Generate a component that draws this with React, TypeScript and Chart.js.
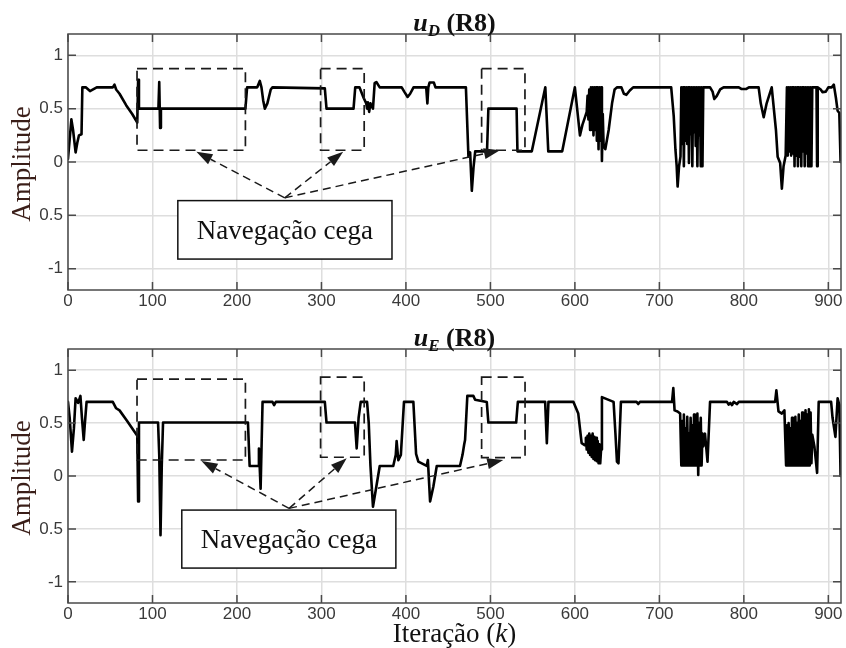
import React, { useEffect, useRef } from "react";
import { Chart, registerables } from "chart.js";

Chart.register(...registerables);

// ---------- axes ----------
const X_TICKS = [0, 100, 200, 300, 400, 500, 600, 700, 800, 900];
const Y_TICKS = [-1, -0.5, 0, 0.5, 1];
const Y_TICK_LABELS = ["-1", "0.5", "0", "0.5", "1"];
const X_MIN = 0;
const X_MAX = 915;
const Y_MIN = -1.2;
const Y_MAX = 1.2;

// ---------- text ----------
const TITLE_TOP = ["u", "D", " (R8)"];
const TITLE_BOTTOM = ["u", "E", " (R8)"];
const Y_LABEL = "Amplitude";
const X_LABEL = ["Iteração (", "k", ")"];
const NOTE_TEXT = "Navegação cega";

// ---------- u_D series: [k, value] ----------
const uD_part1: [number, number][] = [
  [0, 0.03], [4, 0.4], [6, 0.3], [9, 0.09], [11, 0.18], [13, 0.25], [16, 0.26], [17, 0.7],
  [21, 0.7], [26, 0.665], [34, 0.7], [53, 0.7], [55, 0.725], [57, 0.68], [61, 0.64], [69, 0.53],
  [76, 0.45], [82, 0.37], [83, 0.77], [84, 0.5], [107, 0.5], [108, 0.75], [109, 0.32], [110, 0.5],
  [210, 0.5], [212, 0.7], [224, 0.7], [227, 0.76], [229, 0.7], [231, 0.58], [233, 0.5], [236, 0.55],
  [240, 0.68], [242, 0.7], [304, 0.69], [306, 0.5], [338, 0.5], [340, 0.7], [345, 0.7], [350, 0.6],
  [353, 0.55], [354, 0.5], [355, 0.56], [356.5, 0.47], [358, 0.55], [359.5, 0.52], [361, 0.5],
  [363, 0.74], [365, 0.75], [369, 0.7], [395, 0.7], [398, 0.66], [402, 0.61], [405, 0.64], [409, 0.7],
  [424, 0.7], [425.4, 0.55], [426.5, 0.7], [428, 0.745], [433, 0.745], [435, 0.7], [471, 0.7],
  [474, 0.05], [476, 0.09], [478, -0.27], [480, -0.05], [482, 0.1], [496, 0.1], [497.6, 0.5],
  [531, 0.5], [532, 0.1], [549, 0.1], [565, 0.7], [568.5, 0.1], [585, 0.1], [600, 0.7], [606, 0.25],
  [609, 0.35], [612, 0.42],
];
const uD_osc1_start = 614;
const uD_osc1 = [0.47, 0.62, 0.4, 0.68, 0.3, 0.7, 0.35, 0.7, 0.25, 0.7, 0.3, 0.7, 0.2, 0.7, 0.12, 0.7, 0.2, 0.7, 0.01, 0.45, 0.15];
const uD_part2: [number, number][] = [
  [636, 0.12], [640, 0.3], [644, 0.55], [647, 0.68], [650, 0.7], [655, 0.7], [658, 0.64], [661, 0.63],
  [665, 0.67], [669, 0.7], [714, 0.7], [717, 0.43], [719, 0.12], [720.5, -0.04], [721.6, -0.23],
  [723.3, -0.04], [725, 0.05],
];
const uD_osc2_start = 726;
const uD_osc2 = [0.7, 0.17, 0.7, -0.04, 0.7, 0.2, 0.7, 0.17, 0.7, -0.01, 0.7, 0.26, 0.7, -0.04, 0.7, 0.28, 0.7, 0.15, 0.7, -0.04, 0.7, 0.25, 0.7, -0.04, 0.7, -0.04, 0.7];
const uD_part3: [number, number][] = [
  [760, 0.7], [763, 0.66], [765, 0.59], [768, 0.62], [772, 0.68], [776, 0.7], [794, 0.7], [797, 0.685],
  [803, 0.685], [806, 0.7], [817.5, 0.7], [820, 0.55], [823.5, 0.42], [827, 0.55], [833, 0.7],
  [838, 0.3], [840, 0.05], [843, -0.01], [845, -0.25], [847, -0.04], [849.5, 0.06],
];
const uD_osc3_start = 851;
const uD_osc3 = [0.7, 0.06, 0.7, 0.1, 0.7, 0.06, 0.7, 0.08, 0.7, -0.04, 0.7, 0.06, 0.7, -0.04, 0.7, 0.05, 0.7, -0.04, 0.7, 0.1, 0.7, -0.04, 0.7, 0.08, 0.7, -0.04, 0.7, -0.04, 0.7, -0.04, 0.7];
const uD_part4: [number, number][] = [
  [886, 0.7], [886.7, -0.04], [887.4, 0.7], [891, 0.68], [893, 0.655], [897, 0.66], [900, 0.7],
  [904, 0.7], [906.5, 0.725], [909, 0.6], [911, 0.48], [913, 0.46], [914.5, 0.0],
];

// ---------- u_E series: [k, value] ----------
const uE_part1: [number, number][] = [
  [0, 0.7], [2, 0.55], [4.7, 0.23], [7, 0.45], [9, 0.735], [12, 0.69], [14.7, 0.757], [16.5, 0.55],
  [18.6, 0.34], [20, 0.5], [22, 0.7], [53, 0.7], [57, 0.64], [61, 0.62], [70, 0.52], [82, 0.38],
  [83, -0.24], [84, 0.505], [106.6, 0.505], [108, 0.2], [109.5, -0.56], [111, 0.1], [112.5, 0.505],
  [213, 0.505], [215, 0.095], [225, 0.095], [226, 0.26], [228, -0.12], [230.3, 0.7], [242, 0.7],
  [244, 0.67], [246, 0.7], [304, 0.7], [306, 0.505], [339.7, 0.505], [341.7, 0.26], [344, 0.55],
  [346.5, 0.7], [354, 0.7], [356, 0.5], [358, 0.1], [361, -0.29], [365, -0.1], [369, 0.095],
  [385, 0.095], [388, 0.2], [389, 0.33], [391, 0.15], [394, 0.2], [397.7, 0.7], [408.8, 0.7],
  [412, 0.21], [414.7, 0.135], [424.6, 0.095], [426, 0.15], [428.6, -0.24], [432.5, -0.1],
  [436.5, 0.095], [464, 0.095], [467, 0.2], [469, 0.3], [470, 0.34], [472.7, 0.757], [479.8, 0.757],
  [481.9, 0.72], [495.7, 0.7], [497.6, 0.505], [530.5, 0.505], [532.5, 0.7], [564.8, 0.7],
  [566.8, 0.31], [568.7, 0.7], [598.3, 0.7], [604, 0.59], [608, 0.31],
];
const uE_osc1_start = 612;
const uE_osc1 = [0.29, 0.36, 0.25, 0.38, 0.22, 0.4, 0.2, 0.38, 0.18, 0.4, 0.16, 0.37, 0.15, 0.36, 0.14, 0.33, 0.12, 0.3, 0.12, 0.25];
const uE_part2: [number, number][] = [
  [632, 0.745], [645.8, 0.7], [648, 0.4], [649.8, 0.135], [651.6, 0.12], [654.5, 0.7], [673, 0.7],
  [675, 0.68], [677, 0.7], [715, 0.7], [716.5, 0.83], [718, 0.62], [721.5, 0.61], [724.6, 0.59],
];
const uE_osc2_start = 726;
const uE_osc2 = [0.1, 0.52, 0.1, 0.58, 0.1, 0.45, 0.1, 0.56, 0.1, 0.4, 0.1, 0.55, 0.1, 0.48, 0.1, 0.58, 0.1, 0.42, 0.1, 0.59, 0.01, 0.5, 0.1, 0.55, 0.1, 0.4];
const uE_part3: [number, number][] = [
  [752, 0.28], [754, 0.4], [757, 0.135], [760, 0.7], [780, 0.7], [782, 0.675], [784, 0.69], [786, 0.67],
  [788, 0.7], [792, 0.68], [794, 0.7], [837, 0.7], [838.5, 0.81], [841, 0.61], [845, 0.59], [848, 0.62],
];
const uE_osc3_start = 850;
const uE_osc3 = [0.1, 0.48, 0.1, 0.5, 0.1, 0.45, 0.1, 0.55, 0.1, 0.42, 0.1, 0.56, 0.1, 0.5, 0.1, 0.58, 0.1, 0.52, 0.1, 0.6, 0.1, 0.55, 0.1, 0.62, 0.1, 0.58, 0.1, 0.63, 0.1, 0.6, 0.12];
const uE_part4: [number, number][] = [
  [881, 0.39], [883.5, 0.28], [886.7, 0.03], [888.6, 0.7], [903.3, 0.7], [905, 0.55], [908.4, 0.37],
  [911, 0.735], [913, 0.67], [914.5, 0.0],
];

const seq = (start: number, vals: number[]): [number, number][] => vals.map((v, i) => [start + i, v]);

const uD: [number, number][] = [
  ...uD_part1, ...seq(uD_osc1_start, uD_osc1), ...uD_part2, ...seq(uD_osc2_start, uD_osc2),
  ...uD_part3, ...seq(uD_osc3_start, uD_osc3), ...uD_part4,
];
const uE: [number, number][] = [
  ...uE_part1, ...seq(uE_osc1_start, uE_osc1), ...uE_part2, ...seq(uE_osc2_start, uE_osc2),
  ...uE_part3, ...seq(uE_osc3_start, uE_osc3), ...uE_part4,
];

// ---------- annotations (data coordinates) ----------
type Annot = {
  rects: [number, number, number, number][]; // k0, k1, vTop, vBottom
  apex: [number, number];
  targets: [number, number][];
  box: [number, number, number, number]; // k0, k1, vTop, vBottom
};
const ANNOT_TOP: Annot = {
  rects: [[81.7, 210, 0.876, 0.11], [299, 350.6, 0.876, 0.11], [489.6, 540.9, 0.876, 0.11]],
  apex: [256.6, -0.336],
  targets: [[152, 0.095], [325.7, 0.095], [511.3, 0.11]],
  box: [130, 383.5, -0.362, -0.91],
};
const ANNOT_BOTTOM: Annot = {
  rects: [[81.7, 210, 0.915, 0.151], [299, 350.6, 0.934, 0.177], [489.6, 541, 0.934, 0.173]],
  apex: [261.7, -0.306],
  targets: [[158, 0.142], [329.9, 0.167], [515.2, 0.151]],
  box: [134.7, 388.1, -0.322, -0.87],
};

const SERIF = '"Liberation Serif", "Times New Roman", serif';
const SANS = '"Liberation Sans", Arial, sans-serif';

function drawArrow(ctx: CanvasRenderingContext2D, x0: number, y0: number, x1: number, y1: number) {
  const ang = Math.atan2(y1 - y0, x1 - x0);
  const L = 16;
  const W = 5.5;
  const bx = x1 - L * Math.cos(ang);
  const by = y1 - L * Math.sin(ang);
  ctx.setLineDash([8, 5]);
  ctx.beginPath();
  ctx.moveTo(x0, y0);
  ctx.lineTo(bx, by);
  ctx.stroke();
  ctx.setLineDash([]);
  ctx.beginPath();
  ctx.moveTo(x1, y1);
  ctx.lineTo(bx - W * Math.sin(ang), by + W * Math.cos(ang));
  ctx.lineTo(bx + W * Math.sin(ang), by - W * Math.cos(ang));
  ctx.closePath();
  ctx.fill();
}

type PanelProps = {
  top: number;
  height: number;
  points: [number, number][];
  title: string[];
  titleBaseline: number;
  padTop: number;
  xAxisHeight: number;
  annot: Annot;
  showXLabel: boolean;
};

function Panel(props: PanelProps) {
  const ref = useRef<HTMLCanvasElement>(null);
  useEffect(() => {
    const { points, title, titleBaseline, padTop, xAxisHeight, annot, showXLabel } = props;
    const decor = {
      id: "decor",
      afterDraw(chart: any) {
        const ctx: CanvasRenderingContext2D = chart.ctx;
        const a = chart.chartArea;
        const xs = chart.scales.x;
        const ys = chart.scales.y;
        const X = (v: number) => xs.getPixelForValue(v);
        const Y = (v: number) => ys.getPixelForValue(v);
        ctx.save();
        // frame + inward ticks
        ctx.strokeStyle = "#4a4a4a";
        ctx.lineWidth = 1.5;
        ctx.strokeRect(a.left, a.top, a.right - a.left, a.bottom - a.top);
        ctx.beginPath();
        X_TICKS.forEach((t) => {
          const px = X(t);
          ctx.moveTo(px, a.bottom);
          ctx.lineTo(px, a.bottom - 8);
          ctx.moveTo(px, a.top);
          ctx.lineTo(px, a.top + 8);
        });
        Y_TICKS.forEach((t) => {
          const py = Y(t);
          ctx.moveTo(a.left, py);
          ctx.lineTo(a.left + 8, py);
          ctx.moveTo(a.right, py);
          ctx.lineTo(a.right - 8, py);
        });
        ctx.stroke();

        // dashed rectangles
        ctx.strokeStyle = "#1a1a1a";
        ctx.fillStyle = "#1a1a1a";
        ctx.lineWidth = 1.7;
        ctx.setLineDash([10, 6]);
        annot.rects.forEach(([k0, k1, v0, v1]) => {
          ctx.strokeRect(X(k0), Y(v0), X(k1) - X(k0), Y(v1) - Y(v0));
        });
        ctx.setLineDash([]);

        // arrows
        ctx.lineWidth = 1.5;
        const ax = X(annot.apex[0]);
        const ay = Y(annot.apex[1]);
        annot.targets.forEach(([k, v]) => drawArrow(ctx, ax, ay, X(k), Y(v)));

        // note box
        const [bk0, bk1, bv0, bv1] = annot.box;
        const bx0 = X(bk0), bx1 = X(bk1), by0 = Y(bv0), by1 = Y(bv1);
        ctx.fillStyle = "#ffffff";
        ctx.fillRect(bx0, by0, bx1 - bx0, by1 - by0);
        ctx.strokeStyle = "#111";
        ctx.lineWidth = 1.5;
        ctx.strokeRect(bx0, by0, bx1 - bx0, by1 - by0);
        ctx.fillStyle = "#111";
        ctx.font = `27px ${SERIF}`;
        ctx.textAlign = "center";
        ctx.textBaseline = "alphabetic";
        ctx.fillText(NOTE_TEXT, (bx0 + bx1) / 2, (by0 + by1) / 2 + 9);

        // title
        const cx = (a.left + a.right) / 2;
        ctx.textAlign = "left";
        const f1 = `italic bold 26px ${SERIF}`;
        const f2 = `italic bold 17px ${SERIF}`;
        const f3 = `bold 26px ${SERIF}`;
        ctx.font = f1;
        const w1 = ctx.measureText(title[0]).width;
        ctx.font = f2;
        const w2 = ctx.measureText(title[1]).width;
        ctx.font = f3;
        const w3 = ctx.measureText(title[2]).width;
        let sx = cx - (w1 + w2 + w3) / 2;
        ctx.fillStyle = "#111";
        ctx.font = f1;
        ctx.fillText(title[0], sx, titleBaseline);
        sx += w1;
        ctx.font = f2;
        ctx.fillText(title[1], sx, titleBaseline + 5);
        sx += w2;
        ctx.font = f3;
        ctx.fillText(title[2], sx, titleBaseline);

        // y label
        ctx.save();
        ctx.translate(30, (a.top + a.bottom) / 2 + 2);
        ctx.rotate(-Math.PI / 2);
        ctx.font = `27px ${SERIF}`;
        ctx.fillStyle = "#3a1e18";
        ctx.textAlign = "center";
        ctx.fillText(Y_LABEL, 0, 0);
        ctx.restore();

        // x label
        if (showXLabel) {
          const g1 = `27px ${SERIF}`;
          const g2 = `italic 27px ${SERIF}`;
          ctx.font = g1;
          const l1 = ctx.measureText(X_LABEL[0]).width;
          const l3 = ctx.measureText(X_LABEL[2]).width;
          ctx.font = g2;
          const l2 = ctx.measureText(X_LABEL[1]).width;
          let lx = cx - (l1 + l2 + l3) / 2;
          const ly = a.bottom + 39;
          ctx.fillStyle = "#111";
          ctx.font = g1;
          ctx.fillText(X_LABEL[0], lx, ly);
          lx += l1;
          ctx.font = g2;
          ctx.fillText(X_LABEL[1], lx, ly);
          lx += l2;
          ctx.font = g1;
          ctx.fillText(X_LABEL[2], lx, ly);
        }
        ctx.restore();
      },
    };

    const chart = new Chart(ref.current as HTMLCanvasElement, {
      type: "line",
      data: {
        datasets: [
          {
            data: points.map(([x, y]) => ({ x, y })),
            borderColor: "#000",
            borderWidth: 2.6,
            pointRadius: 0,
            tension: 0,
            borderJoinStyle: "round",
            borderCapStyle: "round",
            fill: false,
          },
        ],
      },
      options: {
        animation: false,
        responsive: false,
        devicePixelRatio: 1,
        events: [],
        layout: { padding: { top: padTop, right: 5, left: 0, bottom: 0 } },
        plugins: { legend: { display: false }, tooltip: { enabled: false }, title: { display: false } },
        scales: {
          x: {
            type: "linear",
            min: X_MIN,
            max: X_MAX,
            afterBuildTicks: (s: any) => {
              s.ticks = X_TICKS.map((v) => ({ value: v }));
            },
            afterFit: (s: any) => {
              s.height = xAxisHeight;
            },
            grid: { color: "#dedede", lineWidth: 1.5, drawTicks: false },
            border: { display: false },
            ticks: {
              autoSkip: false,
              maxRotation: 0,
              padding: 1,
              color: "#3a3a3a",
              font: { family: SANS, size: 17 },
              callback: (v: any) => String(v),
            },
          },
          y: {
            type: "linear",
            min: Y_MIN,
            max: Y_MAX,
            afterBuildTicks: (s: any) => {
              s.ticks = Y_TICKS.map((v) => ({ value: v }));
            },
            afterFit: (s: any) => {
              s.width = 68;
            },
            grid: { color: "#dedede", lineWidth: 1.5, drawTicks: false },
            border: { display: false },
            ticks: {
              padding: 5,
              color: "#3a3a3a",
              font: { family: SANS, size: 17 },
              callback: (v: any) => {
                const i = Y_TICKS.indexOf(Number(v));
                return i >= 0 ? Y_TICK_LABELS[i] : "";
              },
            },
          },
        },
      } as any,
      plugins: [decor],
    });
    return () => chart.destroy();
  }, []);
  return (
    <canvas
      ref={ref}
      width={846}
      height={props.height}
      style={{ position: "absolute", left: 0, top: props.top, width: 846, height: props.height }}
    />
  );
}

export default function App() {
  return (
    <div style={{ position: "absolute", left: 0, top: 0, width: 846, height: 648, background: "#fff" }}>
      <Panel top={0} height={320} points={uD} title={TITLE_TOP} titleBaseline={31} padTop={34} xAxisHeight={30} annot={ANNOT_TOP} showXLabel={false} />
      <Panel top={320} height={328} points={uE} title={TITLE_BOTTOM} titleBaseline={26} padTop={29} xAxisHeight={45} annot={ANNOT_BOTTOM} showXLabel={true} />
    </div>
  );
}
